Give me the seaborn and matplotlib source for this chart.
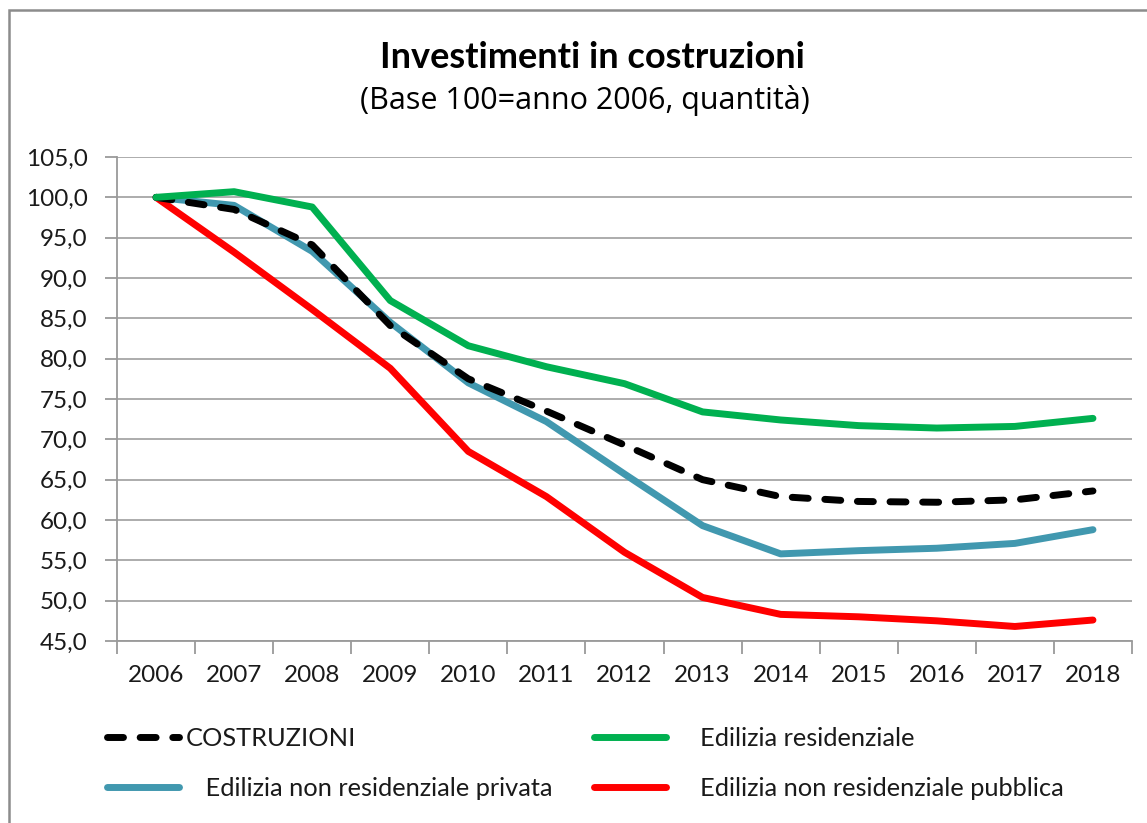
import pandas as pd
import matplotlib
matplotlib.use('Agg')
import matplotlib.pyplot as plt
import matplotlib.patches as mpatches
import numpy as np
import seaborn as sns

# valori (base 100 = 2006)
anni = [2006, 2007, 2008, 2009, 2010, 2011, 2012, 2013, 2014, 2015, 2016, 2017, 2018]
costruzioni = [100.0, 98.5, 94.1, 84.1, 77.5, 73.5, 69.3, 65.0, 62.9, 62.3, 62.2, 62.5, 63.6]
residenziale = [100.0, 100.7, 98.8, 87.2, 81.6, 79.0, 76.9, 73.4, 72.4, 71.7, 71.4, 71.6, 72.6]
non_res_privata = [100.0, 99.0, 93.3, 84.5, 77.0, 72.2, 65.7, 59.3, 55.8, 56.2, 56.5, 57.1, 58.8]
non_res_pubblica = [100.0, 93.2, 86.1, 78.8, 68.5, 62.9, 56.0, 50.4, 48.3, 48.0, 47.5, 46.8, 47.6]

y_ticks = [45, 50, 55, 60, 65, 70, 75, 80, 85, 90, 95, 100, 105]

serie = [
    ('COSTRUZIONI', costruzioni, '#000000', True),
    ('   Edilizia non residenziale privata', non_res_privata, '#4198AF', False),
    ('    Edilizia residenziale', residenziale, '#00B050', False),
    ('    Edilizia non residenziale pubblica', non_res_pubblica, '#FF0000', False),
]

sns.set_theme(style='white')
plt.rcParams['font.family'] = ['Lato', 'DejaVu Sans']

W, H = 1147, 823
fig = plt.figure(figsize=(W / 100, H / 100), dpi=100)
ax = fig.add_axes([117 / W, 1 - 641 / H, (1132 - 117) / W, (641 - 157) / H])

# draw order: red, blue, black, green on top roughly like the reference
for nome, valori, colore, tratteggio in [serie[3], serie[1], serie[0], serie[2]]:
    df = pd.DataFrame({'anno': anni, 'valore': valori})
    ls = (0, (2.3, 2.4)) if tratteggio else '-'
    sns.lineplot(data=df, x='anno', y='valore', ax=ax, color=colore, linewidth=5,
                 linestyle=ls, dash_capstyle='round', solid_capstyle='round',
                 label=nome, legend=False)

ax.set_xlim(2005.5, 2018.5)
ax.set_ylim(45, 105)
ax.set_yticks(y_ticks)
ax.set_yticklabels([f'{v:.1f}'.replace('.', ',') for v in y_ticks])
ax.set_xticks(anni)
ax.set_xticklabels([str(a) for a in anni])
ax.set_xticks([a - 0.5 for a in anni] + [anni[-1] + 0.5], minor=True)
ax.set_xlabel('')
ax.set_ylabel('')

ax.grid(axis='y', color='#A6A6A6', linewidth=1.3)
ax.set_axisbelow(True)
for s in ['top', 'right']:
    ax.spines[s].set_visible(False)
for s in ['left', 'bottom']:
    ax.spines[s].set_color('#9A9A9A')
    ax.spines[s].set_linewidth(1.3)

ax.tick_params(axis='y', which='major', length=9, width=1.3, color='#9A9A9A',
               direction='out', left=True, pad=12, labelsize=17.5, labelcolor='#1a1a1a')
ax.tick_params(axis='x', which='major', length=0, pad=17, labelsize=17.5, labelcolor='#1a1a1a')
ax.tick_params(axis='x', which='minor', length=9, width=1.3, color='#9A9A9A',
               direction='out', bottom=True)

# titolo
fig.text(592 / W, 1 - 57 / H, 'Investimenti in costruzioni', ha='center', va='center',
         fontsize=26, fontweight='bold', color='#000000')
fig.text(585 / W, 1 - 101 / H, '(Base 100=anno 2006, quantità)', ha='center', va='center',
         fontsize=22, color='#000000', family=['Open Sans', 'DejaVu Sans'])

# legenda
handles = {l.get_label(): l for l in ax.get_lines()}
ordine = [s[0] for s in serie]
leg = fig.legend([handles[n] for n in ordine], ordine, ncol=2, loc='upper left',
                 bbox_to_anchor=(107 / W, 1 - 727 / H), frameon=False, fontsize=18.3,
                 handlelength=2.83, handletextpad=0.28, columnspacing=1.65,
                 labelspacing=1.07, borderpad=0, borderaxespad=0)
for t in leg.get_texts():
    t.set_color('#1a1a1a')

# bordo dell'area grafico (solo sinistra e alto visibili)
bordo = mpatches.Rectangle((9 / W, -0.5), 2.0, 0.5 + (1 - 10 / H), transform=fig.transFigure,
                           fill=False, edgecolor='#8C8C8C', linewidth=1.8, clip_on=False)
fig.patches.append(bordo)

fig.savefig('out.png', dpi=100)
